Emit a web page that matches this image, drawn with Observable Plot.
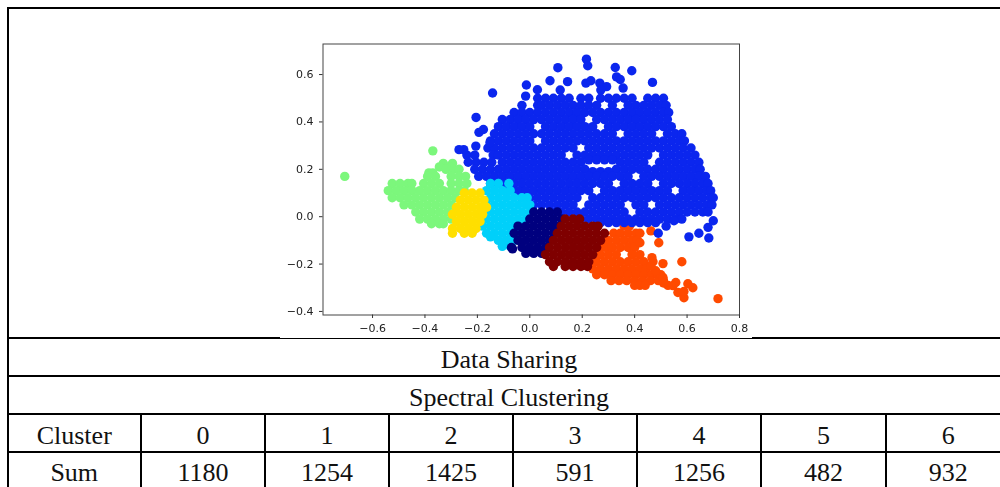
<!DOCTYPE html>
<html>
<head>
<meta charset="utf-8">
<script src="https://cdn.jsdelivr.net/npm/d3@7"></script>
<script src="https://cdn.jsdelivr.net/npm/@observablehq/plot@0.6"></script>
<style>
html,body{margin:0;padding:0;background:#fff;overflow:hidden;width:1000px;height:487px}
#page{position:relative;width:1000px;height:487px;overflow:hidden}
#tbl{position:absolute;left:6.5px;top:7px;border-collapse:collapse;table-layout:fixed;width:1003px;
 font-family:"Liberation Serif",serif;font-size:26px;color:#111}
#tbl td{border:2px solid #000;padding:6px 0 0 0;text-align:center;vertical-align:middle;line-height:26px}
#tbl tr:last-child td{padding-top:3px}
#chart{position:absolute;left:280px;top:10px;background:#fff;filter:blur(.5px)}
#chart svg{display:block;background:#fff}
</style>
</head>
<body>
<div id="page">
<table id="tbl"></table>
<div id="chart"></div>
</div>
<script>
// Table content
const titleRow = "Data Sharing";
const methodRow = "Spectral Clustering";
const headLabel = "Cluster";
const sumLabel = "Sum";
const clusterIds = ["0","1","2","3","4","5","6"];
const clusterSums = ["1180","1254","1425","591","1256","482","932"];

// Tick values
const xTicks = [-0.6,-0.4,-0.2,0,0.2,0.4,0.6,0.8];
const yTicks = [-0.4,-0.2,0,0.2,0.4,0.6];

// Colours of the seven groups
const colours = {blue:"#0b26ee",navy:"#00007f",maroon:"#7f0000",orange:"#ff4a00",cyan:"#00d0fa",yellow:"#ffdf00",green:"#7cf77c"};

// Points: [y, [x, x, ...]] rows, plus single points
const blueRows = [
[.50,[.03,.06,.09,.12,.15,.195,.225,.27,.30,.33,.36,.39,.45,.48,.51]],
[.47,[-.03,.03,.045,.075,.105,.135,.165,.195,.225,.255,.315,.375,.405,.435,.465,.495,.52]],
[.44,[-.06,-.03,.00,.03,.06,.09,.12,.15,.18,.21,.24,.27,.30,.33,.36,.39,.42,.45,.48,.51,.53]],
[.41,[-.105,-.075,-.045,-.015,.015,.045,.075,.105,.135,.165,.195,.255,.285,.315,.345,.375,.405,.435,.465,.495,.525]],
[.38,[-.12,-.09,-.06,-.03,.00,.06,.09,.12,.15,.18,.21,.24,.30,.33,.36,.39,.42,.45,.48,.51,.54]],
[.35,[-.135,-.105,-.075,-.045,-.015,.015,.045,.075,.105,.135,.165,.195,.225,.255,.285,.315,.375,.405,.435,.465,.525,.555,.58]],
[.32,[-.15,-.12,-.09,-.06,-.03,.00,.06,.09,.12,.15,.18,.21,.24,.27,.30,.33,.36,.39,.42,.45,.48,.51,.54,.57,.59]],
[.29,[-.16,-.135,-.105,-.075,-.045,-.015,.015,.045,.075,.105,.135,.165,.225,.255,.285,.315,.345,.375,.405,.435,.465,.495,.525,.555,.585,.615]],
[.26,[-.24,-.21,-.14,-.12,-.09,-.06,-.03,.00,.03,.06,.09,.12,.18,.21,.24,.27,.30,.33,.36,.39,.42,.45,.51,.54,.57,.60,.63]],
[.24,[.225,.255,.285,.315]],
[.23,[-.235,-.205,-.175,-.145,-.105,-.075,-.045,-.015,.015,.045,.075,.105,.135,.165,.195,.345,.375,.405,.435,.495,.525,.555,.585,.615,.645]],
[.20,[-.21,-.18,-.15,-.12,-.09,-.06,-.03,.00,.03,.06,.09,.12,.15,.18,.21,.33,.36,.39,.42,.45,.48,.51,.54,.57,.60,.63,.65]],
[.19,[.24,.27,.30]],
[.17,[-.195,-.165,-.135,-.105,-.075,-.045,-.015,.015,.045,.075,.105,.135,.165,.195,.225,.255,.285,.315,.345,.375,.435,.465,.495,.525,.555,.585,.615,.645,.67]],
[.14,[-.15,-.12,-.09,-.06,-.03,.00,.03,.06,.09,.12,.15,.18,.21,.24,.27,.30,.36,.39,.42,.45,.51,.54,.57,.60,.63,.66,.68]],
[.11,[-.075,-.045,-.015,.015,.045,.075,.105,.135,.165,.195,.225,.285,.315,.345,.375,.405,.435,.465,.495,.525,.585,.615,.645,.675,.69]],
[.08,[-.03,.00,.03,.06,.09,.12,.15,.18,.24,.27,.30,.33,.36,.39,.42,.45,.48,.51,.54,.57,.60,.63,.66,.69,.70]],
[.05,[.015,.045,.075,.105,.135,.165,.225,.255,.285,.315,.345,.405,.435,.495,.525,.555,.585,.615,.645,.675,.695]],
[.02,[.09,.12,.15,.18,.21,.24,.27,.30,.33,.36,.42,.45,.48,.51,.54,.57,.60,.63,.66,.68]],
[-.01,[.195,.225,.255,.285,.315,.345,.375,.405,.435,.465,.495,.525,.555,.58]],
[-.025,[.27,.30,.33,.36,.39,.42,.45,.48]]
];
const blueSingles = [[-.142,.522],[.107,.629],[-.013,.556],[.077,.574],[.144,.57],[.029,.536],[-.016,.509],[.116,.535],[.214,.564],[.233,.574],[.216,.665],[.221,.637],[-.205,.419],[-.194,.356],[-.177,.368],[-.206,.298],[-.152,.313],[-.252,.283],[-.27,.283],[.326,.63],[.389,.616],[.331,.59],[.345,.579],[.468,.567],[.356,.543],[.267,.564],[.293,.549],[.271,.535],[.49,-.07],[.52,-.04],[.55,-.017],[.607,-.085],[.645,-.07],[.683,-.09],[.68,-.045],[.70,-.017]];

const navyRows = [
[.02,[.015,.045,.075,.105]],
[-.01,[.00,.03,.06,.09,.12]],
[-.04,[-.045,-.015,.015,.045,.075,.10]],
[-.07,[-.06,-.03,.00,.03,.06,.09]],
[-.10,[-.045,-.015,.015,.045,.075]],
[-.13,[-.07,-.03,.00,.03,.06]],
[-.136,[-.066]],
[-.155,[-.015,.015,.045]]
];
const maroonRows = [
[-.01,[.135,.165,.19]],
[-.04,[.12,.15,.18,.21,.24,.26]],
[-.07,[.105,.135,.165,.195,.225,.255,.285]],
[-.10,[.09,.12,.15,.18,.21,.24,.27]],
[-.13,[.075,.105,.135,.165,.195,.225,.255]],
[-.16,[.06,.09,.12,.15,.18,.21,.24]],
[-.19,[.075,.105,.135,.165,.195,.225]],
[-.21,[.09,.135,.165,.195,.22]]
];
const orangeRows = [
[-.04,[.36,.38]],
[-.07,[.32,.345,.375,.405,.42]],
[-.10,[.30,.33,.36,.39,.41]],
[-.13,[.27,.29,.315,.345,.375,.40]],
[-.16,[.27,.30,.33,.39,.42]],
[-.19,[.255,.285,.315,.345,.375,.405,.435]],
[-.22,[.24,.27,.30,.33,.36,.39,.42,.445]],
[-.245,[.255,.285,.315,.345,.375,.405,.435,.465,.49]],
[-.27,[.31,.34,.37,.40,.43,.46,.49,.51]],
[-.29,[.40,.42,.44]]
];
const orangeSingles = [[.718,-.346],[.622,-.30],[.603,-.283],[.58,-.19],[.508,-.198],[.466,-.173],[.47,-.19],[.492,-.11],[.462,-.06],[.557,-.278],[.546,-.291],[.527,-.29],[.565,-.32],[.588,-.342],[.588,-.316],[.50,-.245],[.508,-.257],[.48,-.228],[.462,-.207],[.42,-.11],[.51,-.28]];
const cyanRows = [
[.14,[-.15,-.12,-.08]],
[.11,[-.165,-.135,-.105,-.075]],
[.08,[-.15,-.12,-.09,-.06,-.03,-.01]],
[.05,[-.165,-.135,-.105,-.075,-.045,-.015,.00]],
[.02,[-.15,-.12,-.09,-.06,-.03,.00]],
[-.01,[-.165,-.135,-.105,-.075,-.045,-.015]],
[-.04,[-.18,-.15,-.12,-.09,-.06,-.035]],
[-.07,[-.165,-.135,-.105,-.075,-.05]],
[-.085,[-.15]],
[-.10,[-.12,-.09,-.06]],
[-.125,[-.105,-.075]]
];
const yellowRows = [
[.10,[-.25,-.22,-.19]],
[.07,[-.265,-.235,-.205,-.175]],
[.04,[-.28,-.25,-.22,-.19,-.165]],
[.01,[-.295,-.265,-.235,-.205,-.18]],
[-.02,[-.28,-.25,-.22,-.19]],
[-.05,[-.295,-.265,-.235,-.205]],
[-.07,[-.295,-.25,-.22]]
];
const greenRows = [
[.278,[-.37]],
[.225,[-.33,-.295]],
[.21,[-.31,-.345]],
[.20,[-.32,-.29,-.27]],
[.185,[-.385,-.37]],
[.17,[-.706,-.39,-.36,-.30,-.27,-.245]],
[.14,[-.525,-.495,-.465,-.45,-.405,-.375,-.345,-.30,-.27,-.24]],
[.11,[-.54,-.51,-.48,-.45,-.42,-.39,-.36,-.33,-.30,-.27,-.25]],
[.08,[-.525,-.495,-.465,-.435,-.405,-.375,-.345,-.315,-.285]],
[.05,[-.48,-.45,-.42,-.39,-.36,-.33,-.30]],
[.02,[-.435,-.405,-.375,-.345,-.315,-.285]],
[-.01,[-.42,-.39,-.36,-.33,-.30]],
[-.03,[-.375,-.345,-.33]]
];

function rowsToPoints(rows){return rows.flatMap(([y,xs])=>xs.map(x=>({x,y})));}
function pairs(list){return list.map(([x,y])=>({x,y}));}

// Build table
const tbl=document.getElementById("tbl");
const cg=document.createElement("colgroup");
[133.5,124,124,124,124,124,125,124.5].forEach(w=>{const c=document.createElement("col");c.style.width=w+"px";cg.appendChild(c);});
tbl.appendChild(cg);
function addRow(cells,h,span){const tr=document.createElement("tr");tr.style.height=h+"px";
 cells.forEach(t=>{const td=document.createElement("td");td.textContent=t;if(span)td.colSpan=span;tr.appendChild(td);});tbl.appendChild(tr);}
addRow([""],330,8);
addRow([titleRow],38,8);
addRow([methodRow],38,8);
addRow([headLabel,...clusterIds],38);
addRow([sumLabel,...clusterSums],38);

// Chart
const dot=(data,fill)=>Plot.dot(data,{x:"x",y:"y",r:4.7,fill,stroke:"none"});
const axisStyle={tickFormat:d3.format(".1f"),tickSize:3.5,tickPadding:6,label:null,stroke:"#333",fontSize:11};
const plot=Plot.plot({
 width:472,height:327.5,
 marginLeft:42.5,marginRight:13,marginTop:33.5,marginBottom:23,
 style:{fontFamily:"'DejaVu Sans',sans-serif",fontSize:"11px",color:"#222",background:"#fff",overflow:"visible"},
 x:{domain:[-.789,.8],label:null},
 y:{domain:[-.415,.729],label:null},
 marks:[
  dot(rowsToPoints(orangeRows).concat(pairs(orangeSingles)),colours.orange),
  dot(rowsToPoints(blueRows).concat(pairs(blueSingles)),colours.blue),
  dot(rowsToPoints(greenRows),colours.green),
  dot(rowsToPoints(cyanRows),colours.cyan),
  dot(rowsToPoints(navyRows),colours.navy),
  dot(rowsToPoints(maroonRows),colours.maroon),
  dot(rowsToPoints(yellowRows),colours.yellow),
  Plot.frame({stroke:"#444",strokeWidth:1}),
  Plot.axisX({ticks:xTicks,...axisStyle}),
  Plot.axisY({ticks:yTicks,...axisStyle})
 ]
});
document.getElementById("chart").appendChild(plot);
</script>
</body>
</html>
